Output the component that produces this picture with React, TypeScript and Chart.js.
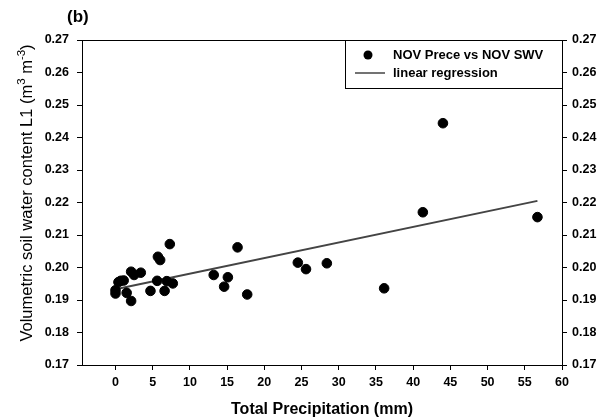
import React, { useEffect, useRef } from "react";
import { Chart, registerables } from "chart.js";

Chart.register(...registerables);

const precip = [0, 0, 0.4, 0.7, 1.1, 1.5, 2.1, 2.1, 2.5, 3.4, 4.7, 5.6, 5.7, 6.0, 6.6, 6.9, 7.3, 7.7, 13.2, 14.6, 15.1, 16.4, 17.7, 24.5, 25.6, 28.4, 36.1, 41.3, 44.0, 56.7];
const swv = [0.193, 0.192, 0.1955, 0.1959, 0.196, 0.1922, 0.1987, 0.1897, 0.1977, 0.1984, 0.1928, 0.1959, 0.2033, 0.2023, 0.1928, 0.1958, 0.2072, 0.1951, 0.1977, 0.1941, 0.197, 0.2062, 0.1917, 0.2015, 0.1995, 0.2013, 0.1936, 0.217, 0.2444, 0.2155];
const regX = [0, 56.7];
const regY = [0.1933, 0.2205];
const xTicks = [0, 5, 10, 15, 20, 25, 30, 35, 40, 45, 50, 55, 60];
const yTicks = [0.17, 0.18, 0.19, 0.2, 0.21, 0.22, 0.23, 0.24, 0.25, 0.26, 0.27];
const legendLabels = ["NOV Prece vs NOV SWV", "linear regression"];
const yTitleParts: [string, boolean][] = [
  ["Volumetric soil water content L1 (m", false],
  ["3", true],
  [" m", false],
  ["-3", true],
  [")", false],
];

const FONT = "'Liberation Sans', Arial, sans-serif";

export default function App() {
  const ref = useRef<HTMLCanvasElement | null>(null);
  useEffect(() => {
    if (!ref.current) return;
    const frame = {
      id: "frame",
      afterDraw(chart: any) {
        const { ctx, chartArea: a } = chart;
        ctx.save();
        ctx.strokeStyle = "#000";
        ctx.lineWidth = 1;
        ctx.strokeRect(a.left + 0.5, a.top + 0.5, a.right - a.left, a.bottom - a.top);
        // legend box
        const lx = 345, ly = a.top, lw = a.right - 345, lh = 48;
        ctx.fillStyle = "#fff";
        ctx.fillRect(lx, ly, lw, lh);
        ctx.strokeRect(lx + 0.5, ly + 0.5, lw, lh);
        ctx.fillStyle = "#000";
        ctx.beginPath();
        ctx.arc(368, ly + 15, 4.5, 0, Math.PI * 2);
        ctx.fill();
        ctx.strokeStyle = "#444";
        ctx.lineWidth = 1.5;
        ctx.beginPath();
        ctx.moveTo(355, ly + 33);
        ctx.lineTo(385, ly + 33);
        ctx.stroke();
        ctx.fillStyle = "#000";
        ctx.font = `bold 13px ${FONT}`;
        ctx.textBaseline = "middle";
        ctx.textAlign = "left";
        ctx.fillText(legendLabels[0], 393, ly + 15);
        ctx.fillText(legendLabels[1], 393, ly + 33);
        // panel label
        ctx.font = `bold 17px ${FONT}`;
        ctx.fillText("(b)", 67, 17);
        // y title with superscripts
        const base = `16.5px ${FONT}`;
        const sup = `11.5px ${FONT}`;
        let total = 0;
        for (const [t, s] of yTitleParts) {
          ctx.font = s ? sup : base;
          total += ctx.measureText(t).width;
        }
        ctx.translate(26, 193);
        ctx.rotate(-Math.PI / 2);
        ctx.textBaseline = "alphabetic";
        let x = -total / 2;
        for (const [t, s] of yTitleParts) {
          ctx.font = s ? sup : base;
          ctx.fillText(t, x, s ? -1 : 6);
          x += ctx.measureText(t).width;
        }
        ctx.restore();
      },
    };
    const tickFont = { family: FONT, size: 12.5, weight: "bold" as const };
    const chart = new Chart(ref.current, {
      type: "scatter",
      data: {
        datasets: [
          {
            label: legendLabels[0],
            data: precip.map((x, i) => ({ x, y: swv[i] })),
            backgroundColor: "#000",
            borderColor: "#000",
            pointRadius: 4.8,
            pointHoverRadius: 4.8,
            yAxisID: "y",
          },
          {
            type: "line",
            label: legendLabels[1],
            data: regX.map((x, i) => ({ x, y: regY[i] })),
            borderColor: "#444",
            borderWidth: 2,
            pointRadius: 0,
            fill: false,
            yAxisID: "y",
          } as any,
        ],
      },
      options: {
        animation: false,
        responsive: false,
        layout: { padding: { top: 40, left: 0, right: 0, bottom: 0 } },
        plugins: { legend: { display: false }, tooltip: { enabled: false } },
        scales: {
          x: {
            type: "linear",
            min: -4.5,
            max: 60,
            afterBuildTicks: (s: any) => { s.ticks = xTicks.map((v) => ({ value: v })); },
            afterFit: (s: any) => { s.height = 54; },
            grid: { drawOnChartArea: false, drawTicks: true, tickLength: 5, color: "#000" },
            border: { display: true, color: "#000" },
            ticks: { color: "#000", font: tickFont, padding: 5, maxRotation: 0, autoSkip: false },
            title: { display: true, text: "Total Precipitation (mm)", color: "#000", font: { family: FONT, size: 16, weight: "bold" }, padding: { top: 8, bottom: 0 } },
          },
          y: {
            type: "linear",
            position: "left",
            min: 0.17,
            max: 0.27,
            afterBuildTicks: (s: any) => { s.ticks = yTicks.map((v) => ({ value: v })); },
            afterFit: (s: any) => { s.width = 82; },
            grid: { drawOnChartArea: false, drawTicks: true, tickLength: 5, color: "#000" },
            border: { display: true, color: "#000" },
            ticks: { color: "#000", font: tickFont, padding: 8, callback: (v: any) => Number(v).toFixed(2), autoSkip: false },
          },
          y2: {
            type: "linear",
            position: "right",
            min: 0.17,
            max: 0.27,
            afterBuildTicks: (s: any) => { s.ticks = yTicks.map((v) => ({ value: v })); },
            afterFit: (s: any) => { s.width = 40; },
            grid: { drawOnChartArea: false, drawTicks: true, tickLength: 5, color: "#000" },
            border: { display: true, color: "#000" },
            ticks: { color: "#000", font: tickFont, padding: 5, callback: (v: any) => Number(v).toFixed(2), autoSkip: false },
          },
        },
      },
      plugins: [frame],
    });
    return () => chart.destroy();
  }, []);
  return (
    <div style={{ position: "fixed", left: 0, top: 0, width: 602, height: 419, background: "#fff" }}>
      <canvas ref={ref} width={602} height={419} style={{ width: 602, height: 419 }} />
    </div>
  );
}
